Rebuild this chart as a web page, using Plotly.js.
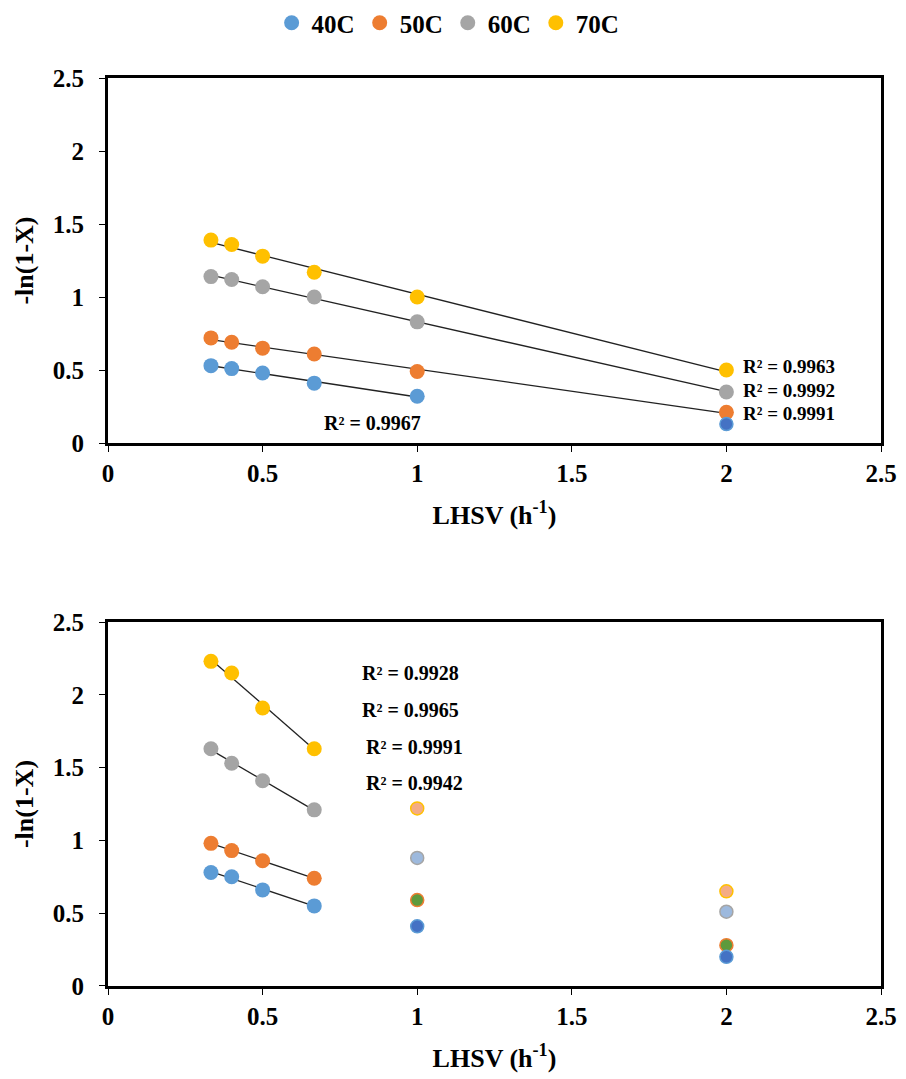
<!DOCTYPE html>
<html>
<head>
<meta charset="utf-8">
<script src="https://cdn.plot.ly/plotly-3.0.1.min.js"></script>
<style>html,body{margin:0;padding:0;background:#fff;}#chart{width:906px;height:1079px;}</style>
</head>
<body>
<div id="chart"></div>
<script>
// ---------- data ----------
const seriesNames = ["40C", "50C", "60C", "70C"];
const lhsvTop = [0.333, 0.4, 0.5, 0.667, 1, 2];
const top40 = [0.53, 0.51, 0.48, 0.41, 0.32];
const top40Extra = [0.13];           // at LHSV 2
const top50 = [0.72, 0.69, 0.65, 0.61, 0.49, 0.21];
const top60 = [1.14, 1.12, 1.07, 1.00, 0.83, 0.35];
const top70 = [1.39, 1.36, 1.28, 1.17, 1.00, 0.50];
const topR2 = ["R² = 0.9967", "R² = 0.9991", "R² = 0.9992", "R² = 0.9963"];

const lhsvBot = [0.333, 0.4, 0.5, 0.667];
const bot40 = [0.78, 0.75, 0.66, 0.55];
const bot50 = [0.98, 0.93, 0.86, 0.74];
const bot60 = [1.63, 1.53, 1.41, 1.21];
const bot70 = [2.23, 2.15, 1.91, 1.63];
const lhsvBotExtra = [1, 2];
const bot40Extra = [0.41, 0.20];
const bot50Extra = [0.59, 0.28];
const bot60Extra = [0.88, 0.51];
const bot70Extra = [1.22, 0.65];
const botR2 = ["R² = 0.9928", "R² = 0.9965", "R² = 0.9991", "R² = 0.9942"];

const xTicks = [0, 0.5, 1, 1.5, 2, 2.5];
const yTicks = [0, 0.5, 1, 1.5, 2, 2.5];

// ---------- style ----------
const colors = ["#5B9BD5", "#ED7D31", "#A5A5A5", "#FFC000"];
const extraFill = ["#4472C4", "#5E9A3C", "#9DB9DD", "#F4AC85"];
const FONT = "'Liberation Serif','Times New Roman',serif";
const MS = 15;

function fit(x, y) {
  const n = x.length;
  let sx = 0, sy = 0, sxx = 0, sxy = 0;
  for (let i = 0; i < n; i++) { sx += x[i]; sy += y[i]; sxx += x[i]*x[i]; sxy += x[i]*y[i]; }
  const b = (n*sxy - sx*sy) / (n*sxx - sx*sx);
  const a = (sy - b*sx) / n;
  const x0 = Math.min(...x), x1 = Math.max(...x);
  return {x: [x0, x1], y: [a + b*x0, a + b*x1]};
}

const traces = [];
function addSeries(x, y, i, xa, ya, legend) {
  const f = fit(x, y);
  traces.push({x: f.x, y: f.y, xaxis: xa, yaxis: ya, mode: "lines", showlegend: false,
    line: {color: "#222", width: 1.3}, hoverinfo: "skip"});
  traces.push({x: x, y: y, xaxis: xa, yaxis: ya, mode: "markers", name: seriesNames[i],
    showlegend: legend, legendgroup: seriesNames[i],
    marker: {color: colors[i], size: MS, line: {width: 0}}});
}
function addExtra(x, y, i, xa, ya) {
  traces.push({x: x, y: y, xaxis: xa, yaxis: ya, mode: "markers", showlegend: false,
    marker: {color: extraFill[i], size: MS - 2, line: {color: colors[i], width: 1.5}}});
}

// top chart
addSeries(lhsvTop.slice(0, top40.length), top40, 0, "x", "y", true);
addSeries(lhsvTop, top50, 1, "x", "y", true);
addSeries(lhsvTop, top60, 2, "x", "y", true);
addSeries(lhsvTop, top70, 3, "x", "y", true);
addExtra([lhsvTop[5]], top40Extra, 0, "x", "y");

// bottom chart
addSeries(lhsvBot, bot40, 0, "x2", "y2", false);
addSeries(lhsvBot, bot50, 1, "x2", "y2", false);
addSeries(lhsvBot, bot60, 2, "x2", "y2", false);
addSeries(lhsvBot, bot70, 3, "x2", "y2", false);
addExtra(lhsvBotExtra, bot70Extra, 3, "x2", "y2");
addExtra(lhsvBotExtra, bot60Extra, 2, "x2", "y2");
addExtra(lhsvBotExtra, bot50Extra, 1, "x2", "y2");
addExtra(lhsvBotExtra, bot40Extra, 0, "x2", "y2");

const tickFont = {family: FONT, size: 25, color: "#000", weight: "bold"};
const titleFont = {family: FONT, size: 26, color: "#000", weight: "bold"};
function xAxis(anchor) {
  return {domain: [0, 1], anchor: anchor, range: [0, 2.5], tickvals: xTicks, ticktext: xTicks.map(String),
    showgrid: false, zeroline: false, showline: true, mirror: true, linecolor: "#000", linewidth: 3,
    ticks: "outside", ticklen: 6, tickwidth: 1, tickcolor: "#000", tickfont: tickFont, ticklabelstandoff: 0,
    title: {text: "LHSV (h<sup>-1</sup>)", font: titleFont, standoff: 20}};
}
function yAxis(anchor, dom) {
  return {domain: dom, anchor: anchor, range: [0, 2.5], tickvals: yTicks, ticktext: yTicks.map(String),
    showgrid: false, zeroline: false, showline: true, mirror: true, linecolor: "#000", linewidth: 3,
    ticks: "outside", ticklen: 6, tickwidth: 1, tickcolor: "#000", tickfont: tickFont, ticklabelstandoff: 10,
    title: {text: "-ln(1-X)", font: titleFont, standoff: 12}};
}

const annFont = {family: FONT, size: 20, color: "#000", weight: "bold"};
const annSmall = {family: FONT, size: 19, color: "#000", weight: "bold"};
const annotations = [
  {xref: "x", yref: "y", x: 0.854, y: 0.137, text: topR2[0], showarrow: false, font: annFont},
  {xref: "x", yref: "y", x: 2.052, y: 0.203, text: topR2[1], showarrow: false, font: annSmall, xanchor: "left", borderpad: 0},
  {xref: "x", yref: "y", x: 2.052, y: 0.358, text: topR2[2], showarrow: false, font: annSmall, xanchor: "left", borderpad: 0},
  {xref: "x", yref: "y", x: 2.052, y: 0.525, text: topR2[3], showarrow: false, font: annSmall, xanchor: "left", borderpad: 0},
  {xref: "x2", yref: "y2", x: 0.977, y: 2.15, text: botR2[0], showarrow: false, font: annFont},
  {xref: "x2", yref: "y2", x: 0.977, y: 1.896, text: botR2[1], showarrow: false, font: annFont},
  {xref: "x2", yref: "y2", x: 0.99, y: 1.64, text: botR2[2], showarrow: false, font: annFont},
  {xref: "x2", yref: "y2", x: 0.99, y: 1.394, text: botR2[3], showarrow: false, font: annFont}
];

const layout = {
  width: 906, height: 1079,
  margin: {l: 108, r: 25, t: 0, b: 0},
  paper_bgcolor: "#fff", plot_bgcolor: "#fff",
  font: {family: FONT, color: "#000"},
  showlegend: true,
  legend: {orientation: "h", x: 0.44, xanchor: "center", y: 1.0, yanchor: "top",
    font: {family: FONT, size: 25, color: "#000", weight: "bold"}, itemwidth: 30, tracegroupgap: 0},
  xaxis: xAxis("y"),
  yaxis: yAxis("x", [0.5894, 0.9277]),
  xaxis2: xAxis("y2"),
  yaxis2: yAxis("x2", [0.0862, 0.4235]),
  annotations: annotations
};

Plotly.newPlot("chart", traces, layout, {displayModeBar: false, staticPlot: true});
</script>
</body>
</html>
